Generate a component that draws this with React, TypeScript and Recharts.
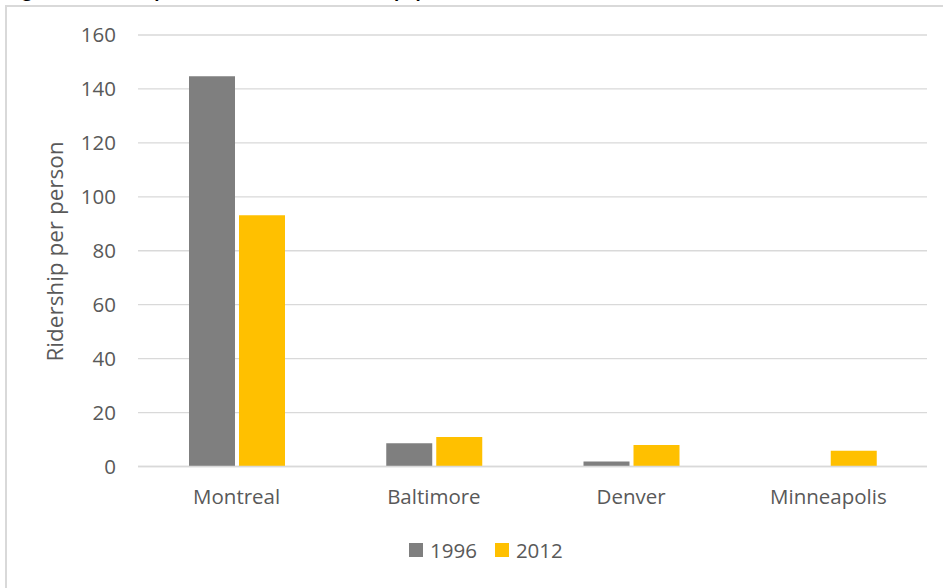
import React from 'react';
import { BarChart, Bar, XAxis, YAxis, CartesianGrid, Legend } from 'recharts';

const categories = ['Montreal', 'Baltimore', 'Denver', 'Minneapolis'];
const ridership1996 = [144.7, 8.6, 1.9, null];
const ridership2012 = [93.2, 10.9, 8.0, 5.8];
const yTicks = [0, 20, 40, 60, 80, 100, 120, 140, 160];
const seriesNames = ['1996', '2012'];
const seriesColors = ['#7f7f7f', '#ffc000'];
const yAxisTitle = 'Ridership per person';
const chartTitle = 'Figure 3: Ridership relative to the metro area population, 1996 and 2012';

const data = categories.map((city, i) => ({
  city,
  y1996: ridership1996[i],
  y2012: ridership2012[i],
}));

const FONT = '"Open Sans", "Noto Sans", sans-serif';
const TEXT = '#595959';

const renderYLabel = () => (
  <text
    x={63}
    y={251.5}
    transform="rotate(-90, 63, 251.5)"
    textAnchor="middle"
    fill={TEXT}
    fontSize={22.5}
    fontFamily={FONT}
  >
    {yAxisTitle}
  </text>
);

const renderLegend = () => (
  <div style={{ display: 'flex', alignItems: 'center', fontFamily: FONT, fontSize: 20.5, color: TEXT, lineHeight: '20px', height: 20 }}>
    {seriesNames.map((n, i) => (
      <div key={n} style={{ display: 'flex', alignItems: 'center', marginRight: i === 0 ? 18 : 0 }}>
        <span style={{ display: 'inline-block', width: 14, height: 14, background: seriesColors[i], marginRight: 7 }} />
        <span>{n}</span>
      </div>
    ))}
  </div>
);

export default function App() {
  return (
    <div style={{ position: 'absolute', left: 0, top: 0, width: 943, height: 588, overflow: 'hidden', background: '#fff' }}>
      <div
        style={{
          position: 'absolute',
          left: 8,
          top: -19,
          whiteSpace: 'nowrap',
          fontFamily: FONT,
          fontWeight: 700,
          fontSize: 17,
          lineHeight: '20px',
          color: '#000',
        }}
      >
        {chartTitle}
      </div>
      <div
        style={{
          position: 'absolute',
          left: 5,
          top: 5,
          width: 2000,
          height: 2000,
          borderLeft: '2px solid #d9d9d9',
          borderTop: '2px solid #d9d9d9',
        }}
      />
      <div style={{ position: 'absolute', left: 0, top: 0 }}>
        <BarChart
          width={943}
          height={588}
          data={data}
          margin={{ top: 35, right: 16, left: 0, bottom: 91.5 }}
          barSize={46}
          barGap={4}
        >
          <CartesianGrid vertical={false} stroke="#d9d9d9" strokeWidth={1.3} />
          <XAxis
            dataKey="city"
            height={30}
            axisLine={{ stroke: '#d9d9d9', strokeWidth: 1.5 }}
            tickLine={false}
            tickSize={0}
            tickMargin={23}
            tick={{ fill: TEXT, fontSize: 20.5, fontFamily: FONT }}
          />
          <YAxis
            domain={[0, 160]}
            ticks={yTicks}
            axisLine={false}
            tickLine={false}
            tickSize={0}
            tickMargin={22}
            width={138}
            tick={{ fill: TEXT, fontSize: 20.5, fontFamily: FONT }}
            label={renderYLabel}
          />
          <Legend
            verticalAlign="middle"
            layout="horizontal"
            content={renderLegend}
            wrapperStyle={{ top: 540, left: 409, width: 'auto', bottom: 'auto' }}
          />
          <Bar dataKey="y1996" name={seriesNames[0]} fill={seriesColors[0]} isAnimationActive={false} />
          <Bar dataKey="y2012" name={seriesNames[1]} fill={seriesColors[1]} isAnimationActive={false} />
        </BarChart>
      </div>
    </div>
  );
}
